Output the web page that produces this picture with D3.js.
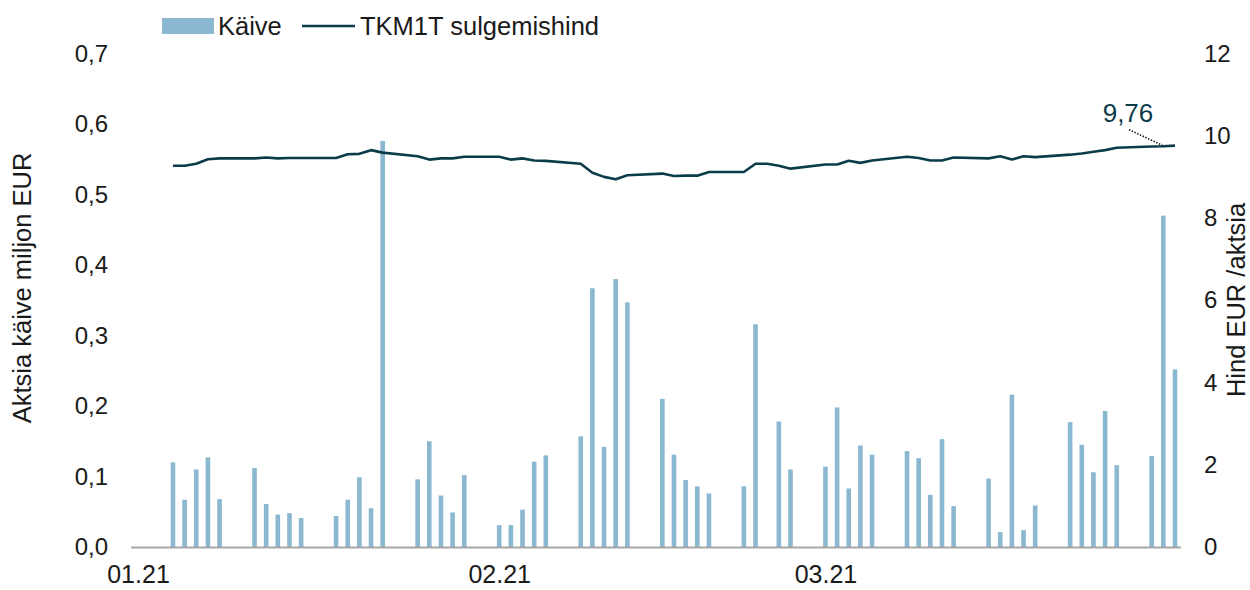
<!DOCTYPE html>
<html>
<head>
<meta charset="utf-8">
<script src="https://cdn.jsdelivr.net/npm/d3@7"></script>
<style>
  body { margin: 0; background: #fff; }
  svg text { font-family: "Liberation Sans", Arial, sans-serif; fill: #1a1a1a; }
</style>
</head>
<body>
<div id="chart"></div>
<script>
// Trading days (Feb 24 is a holiday: no turnover, price carried)
var dates = [
  '2021-01-04','2021-01-05','2021-01-06','2021-01-07','2021-01-08',
  '2021-01-11','2021-01-12','2021-01-13','2021-01-14','2021-01-15',
  '2021-01-18','2021-01-19','2021-01-20','2021-01-21','2021-01-22',
  '2021-01-25','2021-01-26','2021-01-27','2021-01-28','2021-01-29',
  '2021-02-01','2021-02-02','2021-02-03','2021-02-04','2021-02-05',
  '2021-02-08','2021-02-09','2021-02-10','2021-02-11','2021-02-12',
  '2021-02-15','2021-02-16','2021-02-17','2021-02-18','2021-02-19',
  '2021-02-22','2021-02-23','2021-02-24','2021-02-25','2021-02-26',
  '2021-03-01','2021-03-02','2021-03-03','2021-03-04','2021-03-05',
  '2021-03-08','2021-03-09','2021-03-10','2021-03-11','2021-03-12',
  '2021-03-15','2021-03-16','2021-03-17','2021-03-18','2021-03-19',
  '2021-03-22','2021-03-23','2021-03-24','2021-03-25','2021-03-26',
  '2021-03-29','2021-03-30','2021-03-31'
];

// Käive, miljon EUR
var turnover = [
  0.120, 0.067, 0.110, 0.127, 0.068,
  0.112, 0.061, 0.046, 0.048, 0.041,
  0.044, 0.067, 0.099, 0.055, 0.576,
  0.096, 0.150, 0.073, 0.049, 0.102,
  0.031, 0.031, 0.053, 0.121, 0.130,
  0.157, 0.367, 0.142, 0.380, 0.347,
  0.210, 0.131, 0.095, 0.086, 0.076,
  0.086, 0.316, 0, 0.178, 0.110,
  0.114, 0.198, 0.083, 0.144, 0.131,
  0.136, 0.126, 0.074, 0.153, 0.058,
  0.097, 0.021, 0.216, 0.024, 0.059,
  0.177, 0.145, 0.106, 0.193, 0.116,
  0.129, 0.470, 0.252
];

// TKM1T sulgemishind, EUR
var closePrice = [
  9.27, 9.27, 9.32, 9.43, 9.45,
  9.45, 9.47, 9.45, 9.46, 9.46,
  9.46, 9.55, 9.56, 9.65, 9.59,
  9.50, 9.42, 9.45, 9.45, 9.49,
  9.49, 9.42, 9.45, 9.40, 9.39,
  9.32, 9.10, 9.00, 8.94, 9.04,
  9.08, 9.02, 9.03, 9.03, 9.12,
  9.12, 9.32, 9.32, 9.27, 9.20,
  9.30, 9.30, 9.39, 9.34, 9.40,
  9.49, 9.46, 9.40, 9.40, 9.47,
  9.45, 9.50, 9.42, 9.50, 9.48,
  9.54, 9.57, 9.61, 9.65, 9.71,
  9.74, 9.745, 9.76
];

var monthTicks = ['2021-01-01', '2021-02-01', '2021-03-01'];
var leftTicks = [0, 0.1, 0.2, 0.3, 0.4, 0.5, 0.6, 0.7];
var rightTicks = [0, 2, 4, 6, 8, 10, 12];
var lastLabel = '9,76';

var colBar = '#8ab8d0';
var colLine = '#0b3c4a';

var W = 1250, H = 590;
var parse = d3.timeParse('%Y-%m-%d');
var rows = dates.map(function(d, i) {
  return {date: parse(d), vol: turnover[i], price: closePrice[i]};
});

var svg = d3.select('#chart').append('svg').attr('width', W).attr('height', H);

var x = d3.scaleTime()
  .domain([parse('2021-01-01'), parse('2021-03-31')])
  .range([138, 1175]);
var yL = d3.scaleLinear().domain([0, 0.7]).range([547, 53.5]);
var yR = d3.scaleLinear().domain([0, 12]).range([547, 53.5]);
var dayW = x(parse('2021-01-02')) - x(parse('2021-01-01'));

var comma = function(f) { return function(v) { return f(v).replace('.', ','); }; };

function styleTicks(g, size) {
  g.select('.domain').remove();
  g.selectAll('text').style('font-size', size).style('font-family', null).attr('fill', '#1a1a1a');
}

// left axis
var gL = svg.append('g').attr('transform', 'translate(118,0)')
  .call(d3.axisLeft(yL).tickValues(leftTicks).tickSize(0).tickPadding(10).tickFormat(comma(d3.format('.1f'))));
styleTicks(gL, '24px');

// right axis
var gR = svg.append('g').attr('transform', 'translate(1194,0)')
  .call(d3.axisRight(yR).tickValues(rightTicks).tickSize(0).tickPadding(10).tickFormat(d3.format('d')));
styleTicks(gR, '24px');

// bars
svg.append('g').selectAll('rect')
  .data(rows.filter(function(d) { return d.vol > 0; }))
  .join('rect')
  .attr('x', function(d) { return x(d.date) - 2.3; })
  .attr('width', 4.6)
  .attr('y', function(d) { return yL(d.vol); })
  .attr('height', function(d) { return yL(0) - yL(d.vol); })
  .attr('fill', colBar);

// baseline
svg.append('line')
  .attr('x1', x.range()[0] - dayW / 2 - 1).attr('x2', x.range()[1] + dayW / 2)
  .attr('y1', yL(0) + 0.5).attr('y2', yL(0) + 0.5)
  .attr('stroke', '#a6a6a6').attr('stroke-width', 2);

// x axis labels
var gX = svg.append('g').attr('transform', 'translate(0,' + (yL(0) + 18) + ')')
  .call(d3.axisBottom(x).tickValues(monthTicks.map(parse)).tickSize(0).tickPadding(0).tickFormat(d3.timeFormat('%m.%y')));
styleTicks(gX, '25px');

// price line
svg.append('path')
  .datum(rows)
  .attr('fill', 'none')
  .attr('stroke', colLine)
  .attr('stroke-width', 2.6)
  .attr('stroke-linejoin', 'round')
  .attr('d', d3.line().x(function(d) { return x(d.date); }).y(function(d) { return yR(d.price); }));

// last value label
var last = rows[rows.length - 1];
svg.append('line')
  .attr('x1', x(last.date) - 46).attr('y1', yR(last.price) - 16)
  .attr('x2', x(last.date) - 12).attr('y2', yR(last.price))
  .attr('stroke', '#111').attr('stroke-width', 1.5).attr('stroke-dasharray', '1.5,1.5');
svg.append('text')
  .attr('x', x(last.date) - 47).attr('y', yR(last.price) - 24)
  .attr('text-anchor', 'middle')
  .style('font-size', '26px').style('fill', colLine)
  .text(lastLabel);

// axis titles
svg.append('text')
  .attr('transform', 'translate(31,288) rotate(-90)')
  .attr('text-anchor', 'middle')
  .style('font-size', '25.5px')
  .text('Aktsia käive miljon EUR');
svg.append('text')
  .attr('transform', 'translate(1245,300) rotate(-90)')
  .attr('text-anchor', 'middle')
  .style('font-size', '25.5px')
  .text('Hind EUR /aktsia');

// legend
var leg = svg.append('g').attr('transform', 'translate(162,26)');
leg.append('rect').attr('x', 0).attr('y', -8).attr('width', 52).attr('height', 16).attr('fill', colBar);
leg.append('text').attr('x', 56).attr('y', 9).style('font-size', '25.5px').text('Käive');
leg.append('line').attr('x1', 140).attr('x2', 193).attr('y1', 0).attr('y2', 0)
  .attr('stroke', colLine).attr('stroke-width', 2.6);
leg.append('text').attr('x', 198).attr('y', 9).style('font-size', '25.5px').text('TKM1T sulgemishind');
</script>
</body>
</html>
